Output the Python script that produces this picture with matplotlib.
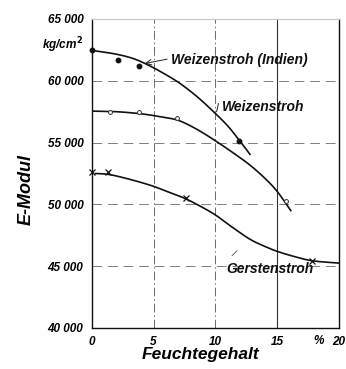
import matplotlib
matplotlib.use("Agg")
import matplotlib.pyplot as plt
import numpy as np

# ---------------- data ----------------
# measured points
indien_x = [0.0, 2.1, 3.85, 11.95]
indien_y = [62500, 61700, 61200, 55100]
weizen_x = [1.5, 3.8, 6.9, 15.7]
weizen_y = [57450, 57450, 56950, 50300]
gerste_x = [0.0, 1.35, 7.6, 17.85]
gerste_y = [52600, 52600, 50550, 45430]

# drawn curves
indien_cx = [0.3, 2.0, 3.5, 5.0, 6.5, 7.4, 8.6, 9.8, 11.0, 12.0, 12.8]
indien_cy = [62420, 62150, 61750, 61050, 60200, 59600, 58650, 57550, 56350, 55100, 54050]
weizen_cx = [0.0, 2.0, 4.0, 5.5, 7.0, 8.5, 10.0, 11.5, 12.8, 14.0, 15.0, 16.1]
weizen_cy = [57550, 57500, 57330, 57100, 56800, 56080, 55150, 54130, 53180, 52120, 51050, 49500]
gerste_cx = [0.3, 1.4, 3.0, 4.8, 6.2, 7.5, 8.7, 10.0, 11.3, 12.8, 14.0, 15.0, 16.5, 17.9, 20.0]
gerste_cy = [52500, 52420, 52050, 51530, 51000, 50500, 49900, 49150, 48200, 47180, 46600, 46200, 45750, 45430, 45250]

xticks = [0, 5, 10, 15, 20]
yticks = [40000, 45000, 50000, 55000, 60000, 65000]
yticklabels = ["40 000", "45 000", "50 000", "55 000", "60 000", "65 000"]

FONT = "Liberation Sans"


def smooth(xs, ys, n=12):
    """Catmull-Rom rendering through the read points."""
    x = np.asarray(xs, float)
    y = np.asarray(ys, float)
    px = np.concatenate([[2 * x[0] - x[1]], x, [2 * x[-1] - x[-2]]])
    py = np.concatenate([[2 * y[0] - y[1]], y, [2 * y[-1] - y[-2]]])
    ox, oy = [], []
    t = np.linspace(0, 1, n, endpoint=False)
    for i in range(1, len(px) - 2):
        for arr, out in ((px, ox), (py, oy)):
            p0, p1, p2, p3 = arr[i - 1], arr[i], arr[i + 1], arr[i + 2]
            out.extend(0.5 * ((2 * p1) + (-p0 + p2) * t + (2 * p0 - 5 * p1 + 4 * p2 - p3) * t ** 2
                              + (-p0 + 3 * p1 - 3 * p2 + p3) * t ** 3))
    ox.append(x[-1])
    oy.append(y[-1])
    return ox, oy


fig = plt.figure(figsize=(3.46, 3.69), dpi=100)
ax = fig.add_axes([91.7 / 346, 1 - 328 / 369, (339 - 91.7) / 346, (328 - 19) / 369])
ax.set_xlim(0, 20)
ax.set_ylim(40000, 65000)

# grid lines
dashdot = (0, (9, 3, 1.5, 3))
for gx in [5, 10]:
    ax.axvline(gx, color="#6a6a6a", lw=0.7, ls=dashdot, zorder=1)
ax.axvline(15, color="#333333", lw=0.8, zorder=1)
for gy in [45000, 50000, 55000, 60000]:
    ax.axhline(gy, color="#7f7f7f", lw=0.7, ls=(0, (10, 6)), zorder=1)

# curves
lc = "#111111"
for cx, cy in ((indien_cx, indien_cy), (weizen_cx, weizen_cy), (gerste_cx, gerste_cy)):
    sx, sy = smooth(cx, cy)
    ax.plot(sx, sy, color=lc, lw=1.2, zorder=3)

# markers
ax.plot(indien_x, indien_y, ls="none", marker="o", ms=3.2, color=lc, zorder=4, clip_on=False)
ax.plot(weizen_x, weizen_y, ls="none", marker="o", ms=2.8, mfc="white", mec="#333333", mew=0.7, zorder=4)
ax.plot(gerste_x, gerste_y, ls="none", marker="x", ms=3.8, mew=0.9, color=lc, zorder=4, clip_on=False)

# labels on curves
lab = dict(family=FONT, fontsize=10, fontweight="bold", fontstyle="italic", color="#111111")
ax.text(6.4, 61700, "Weizenstroh (Indien)", ha="left", va="center", **lab)
ax.annotate("", xy=(4.3, 61400), xytext=(6.1, 61750),
            arrowprops=dict(arrowstyle="->", color="#222222", lw=0.7, shrinkA=0, shrinkB=0))
ax.text(10.55, 57900, "Weizenstroh", ha="left", va="center", **lab)
ax.plot([10.25, 10.1], [58150, 57500], color="#222222", lw=0.7)
ax.text(10.9, 44750, "Gerstenstroh", ha="left", va="center", **lab)
ax.plot([11.35, 11.75], [45850, 46250], color="#555555", lw=0.6)

# axes styling
for s in ["left", "bottom", "right"]:
    ax.spines[s].set_color("#111111")
    ax.spines[s].set_linewidth(1.0)
ax.spines["top"].set_color("#c8c8c8")
ax.spines["top"].set_linewidth(0.9)

tick_font = dict(family=FONT, fontsize=8.5, fontweight="bold", fontstyle="italic")
ax.set_xticks(xticks)
ax.set_xticklabels([str(t) for t in xticks], **tick_font)
ax.set_yticks(yticks)
ax.set_yticklabels(yticklabels, **tick_font)
ax.tick_params(length=0, pad=6)

ax.text(-0.035, 62900, "kg/cm$^{\\mathbf{2}}$", transform=ax.get_yaxis_transform(),
        ha="right", va="center", **tick_font)
ax.text(18.35, -0.042, "%", transform=ax.get_xaxis_transform(), ha="center", va="center",
        **tick_font)

ax.set_ylabel("E-Modul", family=FONT, fontsize=13, fontstyle="italic", fontweight="bold")
ax.yaxis.set_label_coords(-0.23, 0.447)
fig.text(200 / 346, 1 - 355 / 369, "Feuchtegehalt", family=FONT, fontsize=12.5,
         fontstyle="italic", fontweight="bold", ha="center", va="center")

fig.savefig("out.png", dpi=100)
